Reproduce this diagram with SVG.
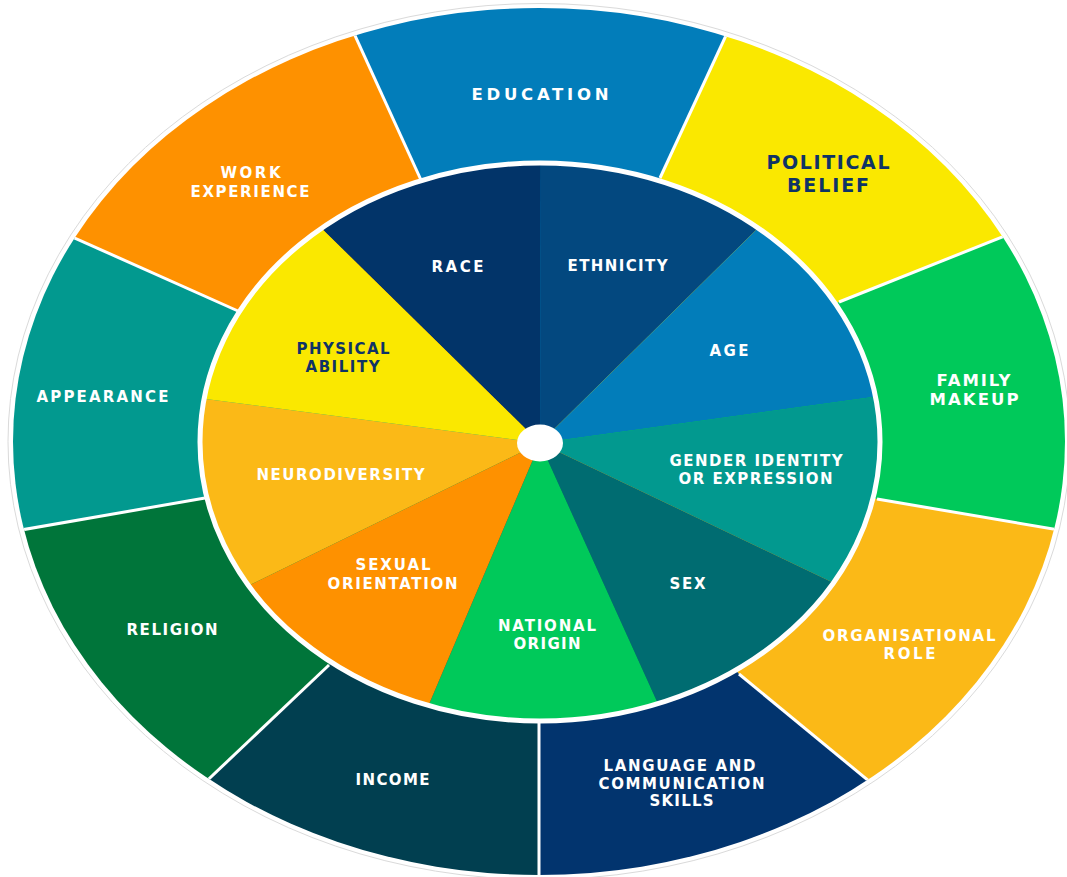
<svg xmlns="http://www.w3.org/2000/svg" width="1067" height="877" viewBox="0 0 1067 877">
  <defs>
    <clipPath id="outerClip">
      <ellipse cx="539" cy="441.5" rx="526" ry="433.5"/>
    </clipPath>
    <clipPath id="innerClip">
      <ellipse cx="540" cy="442" rx="340" ry="279"/>
    </clipPath>
  </defs>
  <style>
    text { font-family: "DejaVu Sans", "Liberation Sans", sans-serif; font-weight: 700; text-anchor: middle; }
    .w { fill: #ffffff; font-size: 15px; }
    .n { fill: #0f3366; font-size: 15px; }
    .big { font-size: 16.5px; }
    .huge { font-size: 19px; }
    .divider { stroke: #ffffff; stroke-width: 3; fill: none; }
  </style>

  <rect width="1067" height="877" fill="#ffffff"/>

  <!-- thin rim around the wheel -->
  <ellipse cx="539" cy="441.5" rx="531" ry="438" fill="none" stroke="#dadada" stroke-width="1"/>

  <!-- outer ring -->
  <g clip-path="url(#outerClip)">
    <g id="education"><polygon points="540,442 421,180 315,-52 766,-51 660,178" fill="#027dba"/></g>
    <g id="political-belief"><polygon points="540,442 660,178 766,-51 1120,-60 1105,196 839,302" fill="#fae800"/></g>
    <g id="family-makeup"><polygon points="540,442 839,302 1105,196 1170,549 877,499" fill="#00c95a"/></g>
    <g id="organisational-role"><polygon points="540,442 877,499 1170,549 1170,950 949,847 739,674" fill="#fbb917"/></g>
    <g id="language-communication"><polygon points="540,442 739,674 949,847 950,960 539,960 539,721" fill="#02346e"/></g>
    <g id="income"><polygon points="540,442 539,721 539,960 135,849 329,665" fill="#013f50"/></g>
    <g id="religion"><polygon points="540,442 329,665 135,849 -100,860 -88,549 205,498" fill="#00753a"/></g>
    <g id="appearance"><polygon points="540,442 205,498 -88,549 -24,194 238,311" fill="#02998f"/></g>
    <g id="work-experience"><polygon points="540,442 238,311 -24,194 -40,-60 315,-52 421,180" fill="#fe9100"/></g>

    <g id="dividers">
      <line class="divider" x1="421" y1="180" x2="315" y2="-52"/>
      <line class="divider" x1="238" y1="311" x2="-24" y2="194"/>
      <line class="divider" x1="205" y1="498" x2="-88" y2="549"/>
      <line class="divider" x1="329" y1="665" x2="135" y2="849"/>
      <line class="divider" x1="539" y1="721" x2="539" y2="960"/>
      <line class="divider" x1="739" y1="674" x2="949" y2="847"/>
      <line class="divider" x1="877" y1="499" x2="1170" y2="549"/>
      <line class="divider" x1="839" y1="302" x2="1105" y2="196"/>
      <line class="divider" x1="660" y1="178" x2="766" y2="-51"/>
    </g>
  </g>

  <!-- inner pie -->
  <g clip-path="url(#innerClip)">
    <g id="race"><polygon points="540,443 258,166 541,79" fill="#023469"/></g>
    <g id="ethnicity"><polygon points="540,443 541,79 821,166" fill="#03487f"/></g>
    <g id="age"><polygon points="540,443 821,166 973,383" fill="#027dba"/></g>
    <g id="gender-identity"><polygon points="540,443 973,383 920,624" fill="#02998f"/></g>
    <g id="sex"><polygon points="540,443 920,624 693,781" fill="#006c71"/></g>
    <g id="national-origin"><polygon points="540,443 693,781 396,782" fill="#00c95a"/></g>
    <g id="sexual-orientation"><polygon points="540,443 396,782 166,626" fill="#fe9100"/></g>
    <g id="neurodiversity"><polygon points="540,443 166,626 107,386" fill="#fbb917"/></g>
    <g id="physical-ability"><polygon points="540,443 107,386 258,166" fill="#fae800"/></g>
  </g>
  <ellipse cx="540" cy="442" rx="340" ry="279" fill="none" stroke="#ffffff" stroke-width="5"/>

  <!-- hub -->
  <ellipse cx="540" cy="443" rx="23" ry="18.5" fill="#ffffff"/>

  <!-- outer labels -->
  <text class="w big" x="540" y="100" textLength="137" lengthAdjust="spacing">EDUCATION</text>
  <text class="n huge" x="828" y="169" textLength="123" lengthAdjust="spacing">POLITICAL</text>
  <text class="n huge" x="828" y="191.5" textLength="82" lengthAdjust="spacing">BELIEF</text>
  <text class="w big" x="973.5" y="385.5" textLength="74" lengthAdjust="spacing">FAMILY</text>
  <text class="w big" x="974" y="405" textLength="89" lengthAdjust="spacing">MAKEUP</text>
  <text class="w" x="909" y="641" textLength="173" lengthAdjust="spacing">ORGANISATIONAL</text>
  <text class="w" x="909.5" y="659" textLength="52" lengthAdjust="spacing">ROLE</text>
  <text class="w" x="679.5" y="770.8" textLength="152" lengthAdjust="spacing">LANGUAGE AND</text>
  <text class="w" x="681.5" y="788.5" textLength="166" lengthAdjust="spacing">COMMUNICATION</text>
  <text class="w" x="681.5" y="806.2" textLength="64" lengthAdjust="spacing">SKILLS</text>
  <text class="w" x="392.5" y="784.5" textLength="74" lengthAdjust="spacing">INCOME</text>
  <text class="w" x="172" y="635" textLength="91" lengthAdjust="spacing">RELIGION</text>
  <text class="w" x="102.5" y="402" textLength="132" lengthAdjust="spacing">APPEARANCE</text>
  <text class="w" x="250.5" y="178" textLength="60" lengthAdjust="spacing">WORK</text>
  <text class="w" x="250" y="197" textLength="119" lengthAdjust="spacing">EXPERIENCE</text>

  <!-- inner labels -->
  <text class="w" x="457.5" y="272" textLength="52" lengthAdjust="spacing">RACE</text>
  <text class="w" x="617.5" y="271" textLength="100" lengthAdjust="spacing">ETHNICITY</text>
  <text class="w" x="729" y="356" textLength="39" lengthAdjust="spacing">AGE</text>
  <text class="w" x="756" y="466" textLength="173" lengthAdjust="spacing">GENDER IDENTITY</text>
  <text class="w" x="755.5" y="484" textLength="154" lengthAdjust="spacing">OR EXPRESSION</text>
  <text class="w" x="687.5" y="589" textLength="36" lengthAdjust="spacing">SEX</text>
  <text class="w" x="547" y="631.3" textLength="98" lengthAdjust="spacing">NATIONAL</text>
  <text class="w" x="547" y="649" textLength="67" lengthAdjust="spacing">ORIGIN</text>
  <text class="w" x="393" y="570" textLength="75" lengthAdjust="spacing">SEXUAL</text>
  <text class="w" x="392.5" y="589" textLength="130" lengthAdjust="spacing">ORIENTATION</text>
  <text class="w" x="340.5" y="480" textLength="168" lengthAdjust="spacing">NEURODIVERSITY</text>
  <text class="n" x="343" y="354" textLength="93" lengthAdjust="spacing">PHYSICAL</text>
  <text class="n" x="342.5" y="372" textLength="74" lengthAdjust="spacing">ABILITY</text>
</svg>
